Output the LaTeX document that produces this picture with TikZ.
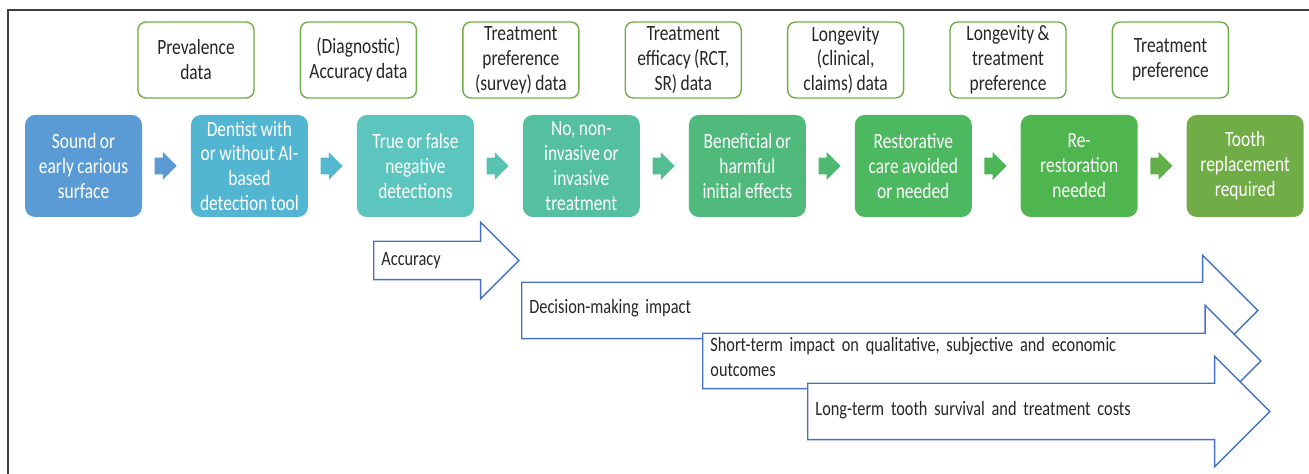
\documentclass[tikz,border=0pt]{standalone}
\usepackage{fontspec}
\setmainfont{Carlito}[FakeStretch=0.8, WordSpace=0.85]
\usetikzlibrary{positioning, shapes.arrows}

\definecolor{stageA}{HTML}{5B9BD5}
\definecolor{stageB}{HTML}{52B5D2}
\definecolor{stageC}{HTML}{5BC5BE}
\definecolor{stageD}{HTML}{55C09F}
\definecolor{stageE}{HTML}{50BA7C}
\definecolor{stageF}{HTML}{4CB85F}
\definecolor{stageG}{HTML}{4FB54E}
\definecolor{stageH}{HTML}{70AD47}
\definecolor{srcgreen}{HTML}{70AD47}
\definecolor{outblue}{HTML}{4472C4}

\begin{document}
\begin{tikzpicture}[
    node distance=0.965cm,
    stage/.style={rectangle, rounded corners=0.2cm, minimum width=2.34cm, minimum height=2.04cm,
        inner sep=1pt, align=center, text=white, font=\fontsize{12.4}{14.2}\selectfont},
    source/.style={draw=srcgreen, line width=0.8pt, rounded corners=0.16cm, minimum width=2.32cm,
        minimum height=1.52cm, inner sep=1pt, align=center, text=black!85, font=\fontsize{12.4}{14.2}\selectfont},
    link/.style={single arrow, single arrow head extend=0.11cm, inner xsep=0.13cm, inner ysep=0.16cm,
        minimum size=0pt},
    outcome/.style={single arrow, draw=outblue, line width=0.8pt, fill=white, inner xsep=0.14cm,
        inner ysep=0pt, minimum size=0pt, align=left, text=black!85, font=\fontsize{11.6}{13.7}\selectfont}
]

    \useasboundingbox (0,0) rectangle (26.18,9.48);
    \draw[black!75, line width=1pt] (0.16,0) -- (0.16,9.28) -- (26.18,9.28);

    % stages
    \node[stage, fill=stageA] (sound) at (1.67,6.16) {Sound or\\early carious\\surface};
    \node[stage, fill=stageB, right=of sound] (dentist) {Dentist with\\or without AI-\\based\\detection tool};
    \node[stage, fill=stageC, right=of dentist] (detect) {True or false\\negative\\detections};
    \node[stage, fill=stageD, right=of detect] (treat) {No, non-\\invasive or\\invasive\\treatment};
    \node[stage, fill=stageE, right=of treat] (effects) {Beneficial or\\harmful\\initial effects};
    \node[stage, fill=stageF, right=of effects] (restor) {Restorative\\care avoided\\or needed};
    \node[stage, fill=stageG, right=of restor] (rerest) {Re-\\restoration\\needed};
    \node[stage, fill=stageH, right=of rerest] (replace) {Tooth\\replacement\\required};

    % data sources
    \node[source] (prev) at (3.92,8.28) {Prevalence\\data};
    \node[source, right=0.90cm of prev] (diag) {(Diagnostic)\\Accuracy data};
    \node[source, right=0.90cm of diag] (pref) {Treatment\\preference\\(survey) data};
    \node[source, right=0.90cm of pref] (effic) {Treatment\\efficacy (RCT,\\SR) data};
    \node[source, right=0.90cm of effic] (longev) {Longevity\\(clinical,\\claims) data};
    \node[source, right=0.90cm of longev] (longpref) {Longevity \&\\treatment\\preference};
    \node[source, right=0.90cm of longpref] (toothpref) {Treatment\\preference};

    % links between stages
    \node[link, fill=stageA, right=0.24cm of sound] (l1) {};
    \node[link, fill=stageB!80!stageC, right=0.24cm of dentist] (l2) {};
    \node[link, fill=stageC!60!stageD, right=0.24cm of detect] (l3) {};
    \node[link, fill=stageD!60!stageE, right=0.24cm of treat] (l4) {};
    \node[link, fill=stageE!60!stageF, right=0.24cm of effects] (l5) {};
    \node[link, fill=stageF!60!stageG, right=0.24cm of restor] (l6) {};
    \node[link, fill=stageG!40!stageH, right=0.24cm of rerest] (l7) {};

    % outcomes
    \node[outcome, anchor=west, text width=2.21cm, text height=0.48cm, text depth=0.26cm,
        single arrow head extend=0.38cm] (accuracy) at (7.46,4.27) {Accuracy};
    \node[outcome, anchor=west, text width=13.85cm, text height=0.62cm, text depth=0.48cm,
        single arrow head extend=0.54cm] (decision) at (10.42,3.27) {Decision-making impact};
    \node[outcome, anchor=west, text width=10.30cm, text height=0.36cm, text depth=0.72cm,
        single arrow head extend=0.56cm] (shortterm) at (14.04,2.26)
        {Short-term impact on qualitative, subjective and economic\\outcomes};
    \node[outcome, anchor=west, text width=8.37cm, text height=0.64cm, text depth=0.46cm,
        single arrow head extend=0.54cm] (longterm) at (16.14,1.25)
        {Long-term tooth survival and treatment costs};

\end{tikzpicture}
\end{document}
